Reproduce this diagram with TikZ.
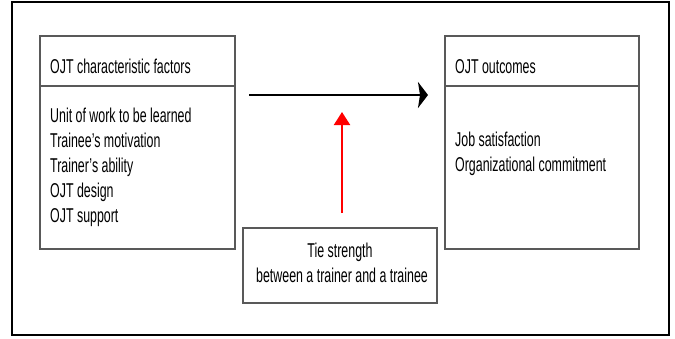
\documentclass[tikz,border=0pt]{standalone}
\usepackage{fontspec}
\setmainfont{Liberation Sans}[FakeStretch=0.62]
\usetikzlibrary{arrows.meta}
\begin{document}
\begin{tikzpicture}[x=1pt,y=-1pt,
  boxline/.style={draw=black!65, line width=1.3pt},
  txt/.style={inner sep=0pt, anchor=base west, font=\fontsize{20}{25}\selectfont, text=black},
  mainarrow/.style={line width=2.6pt, -{Stealth[length=10pt,width=26pt,inset=2pt]}},
  redarrow/.style={red, line width=2pt, -{Triangle[length=13pt,width=16pt]}}]
\useasboundingbox (0,0) rectangle (675,338);
\draw[line width=2pt] (12,2) rectangle (669,335);
% left box
\node[boxline, minimum width=195pt, minimum height=213pt, inner sep=0pt] (lbox) at (137.5,142.5) {};
\coordinate (ld1) at (40,86);
\coordinate (ld2) at (235,86);
\draw[boxline] (ld1) -- (ld2);
\node[txt] (lhead) at (50,73) {OJT characteristic factors};
\node[txt] (l1) at (50,122.5) {Unit of work to be learned};
\node[txt] (l2) at (50,147.5) {Trainee's motivation};
\node[txt] (l3) at (50,172.5) {Trainer's ability};
\node[txt] (l4) at (50,197.5) {OJT design};
\node[txt] (l5) at (50,222.5) {OJT support};
% right box
\node[boxline, minimum width=194pt, minimum height=213pt, inner sep=0pt] (rbox) at (542,142.5) {};
\coordinate (rd1) at (445,86);
\coordinate (rd2) at (639,86);
\draw[boxline] (rd1) -- (rd2);
\node[txt] (rhead) at (455,73) {OJT outcomes};
\node[txt] (r1) at (455,146) {Job satisfaction};
\node[txt] (r2) at (455,171) {Organizational commitment};
% tie box
\node[boxline, minimum width=194pt, minimum height=75pt, inner sep=0pt] (tie) at (340,265.5) {};
\node[txt, anchor=base] (t1) at (340,257) {Tie strength};
\node[txt, anchor=base] (t2) at (342,282) {between a trainer and a trainee};
% arrows
\coordinate (h1) at (249,95);
\coordinate (h2) at (428,95);
\draw[mainarrow] (h1) -- (h2);
\coordinate (rs) at (342,213);
\coordinate (rt) at (342,112);
\draw[redarrow] (rs) -- (rt);
\end{tikzpicture}
\end{document}
